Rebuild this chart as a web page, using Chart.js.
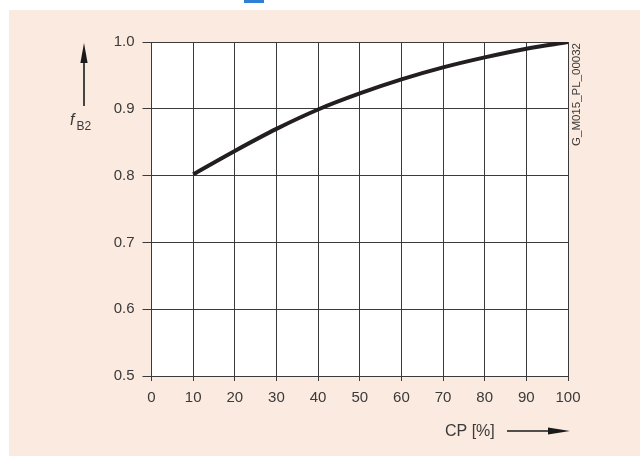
<!DOCTYPE html>
<html>
<head>
<meta charset="utf-8">
<script src="https://cdn.jsdelivr.net/npm/chart.js@4"></script>
<style>
  html, body { margin: 0; padding: 0; background: #ffffff; }
  #wrap { width: 640px; height: 456px; position: relative; }
  canvas { display: block; }
</style>
</head>
<body>
<div id="wrap"><canvas id="c" width="640" height="456"></canvas></div>
<script>
// Data
const cpValues = [10, 20, 30, 40, 50, 60, 70, 80, 90, 100];
const fB2Values = [0.802, 0.837, 0.870, 0.899, 0.923, 0.944, 0.962, 0.977, 0.990, 1.000];
const xTickLabels = ['0','10','20','30','40','50','60','70','80','90','100'];
const yTickLabels = ['0.5','0.6','0.7','0.8','0.9','1.0'];
const xAxisTitle = 'CP [%]';
const yAxisTitleMain = 'f';
const yAxisTitleSub = 'B2';
const sideCode = 'G_M015_PL_00032';

const FONT = '"Liberation Sans", Arial, Helvetica, sans-serif';
const TEXT = '#3a3a3a';
const GRID = '#3a3a3a';
const BEIGE = '#fbeadf';

const points = cpValues.map((x, i) => ({ x: x, y: fB2Values[i] }));

const decor = {
  id: 'decor',
  beforeDraw(chart) {
    const ctx = chart.ctx, a = chart.chartArea;
    ctx.save();
    ctx.fillStyle = '#ffffff';
    ctx.fillRect(0, 0, chart.width, chart.height);
    ctx.fillStyle = BEIGE;
    ctx.fillRect(9, 10, chart.width - 9, chart.height - 10);
    ctx.fillStyle = '#2f7fd6';
    ctx.fillRect(244, 0, 20, 3);
    ctx.fillStyle = '#ffffff';
    ctx.fillRect(a.left, a.top, a.right - a.left, a.bottom - a.top);
    ctx.restore();
  },
  afterDraw(chart) {
    const ctx = chart.ctx;
    ctx.save();
    ctx.fillStyle = '#1a1a1a';
    ctx.strokeStyle = '#1a1a1a';
    // vertical arrow (y axis)
    ctx.lineWidth = 1.6;
    ctx.beginPath();
    ctx.moveTo(84, 106);
    ctx.lineTo(84, 60);
    ctx.stroke();
    ctx.beginPath();
    ctx.moveTo(84, 43);
    ctx.lineTo(87.6, 63);
    ctx.lineTo(80.4, 63);
    ctx.closePath();
    ctx.fill();
    // horizontal arrow (x axis)
    ctx.beginPath();
    ctx.moveTo(507, 431);
    ctx.lineTo(552, 431);
    ctx.stroke();
    ctx.beginPath();
    ctx.moveTo(570, 431);
    ctx.lineTo(548, 427.4);
    ctx.lineTo(548, 434.6);
    ctx.closePath();
    ctx.fill();
    // y title f_B2
    ctx.fillStyle = TEXT;
    ctx.textBaseline = 'alphabetic';
    ctx.textAlign = 'left';
    ctx.font = 'italic 16px ' + FONT;
    ctx.fillText(yAxisTitleMain, 70, 125);
    ctx.font = '12px ' + FONT;
    ctx.fillText(yAxisTitleSub, 76.5, 130);
    // x title
    ctx.font = '16px ' + FONT;
    ctx.textBaseline = 'middle';
    ctx.fillText(xAxisTitle, 445, 432);
    // rotated side code
    ctx.font = '11.5px ' + FONT;
    ctx.translate(577, 43);
    ctx.rotate(-Math.PI / 2);
    ctx.textAlign = 'right';
    ctx.textBaseline = 'middle';
    ctx.fillText(sideCode, 0, 0);
    ctx.restore();
  }
};

new Chart(document.getElementById('c'), {
  type: 'line',
  data: {
    datasets: [{
      data: points,
      borderColor: '#231f20',
      borderWidth: 4,
      pointRadius: 0,
      fill: false,
      cubicInterpolationMode: 'monotone'
    }]
  },
  options: {
    responsive: false,
    animation: false,
    devicePixelRatio: 1,
    layout: { padding: { left: 0, top: 42, right: 72, bottom: 0 } },
    plugins: { legend: { display: false }, tooltip: { enabled: false } },
    scales: {
      x: {
        type: 'linear',
        min: 0, max: 100,
        afterFit(s) { s.height = 80; },
        afterBuildTicks(s) { s.ticks = xTickLabels.map(v => ({ value: Number(v) })); },
        ticks: {
          callback: (v, i) => xTickLabels[i],
          color: TEXT,
          font: { family: FONT, size: 15 },
          padding: 8,
          maxRotation: 0,
          autoSkip: false
        },
        grid: { color: GRID, lineWidth: 1, tickLength: 5, drawTicks: true },
        border: { display: true, color: GRID, width: 1 }
      },
      y: {
        type: 'linear',
        min: 0.5, max: 1.0,
        afterFit(s) { s.width = 151.5; },
        afterBuildTicks(s) { s.ticks = yTickLabels.map(v => ({ value: Number(v) })); },
        ticks: {
          callback: (v, i) => yTickLabels[i],
          color: TEXT,
          font: { family: FONT, size: 15 },
          padding: 8,
          autoSkip: false
        },
        grid: { color: GRID, lineWidth: 1, tickLength: 9, drawTicks: true },
        border: { display: true, color: GRID, width: 1 }
      }
    }
  },
  plugins: [decor]
});
</script>
</body>
</html>
